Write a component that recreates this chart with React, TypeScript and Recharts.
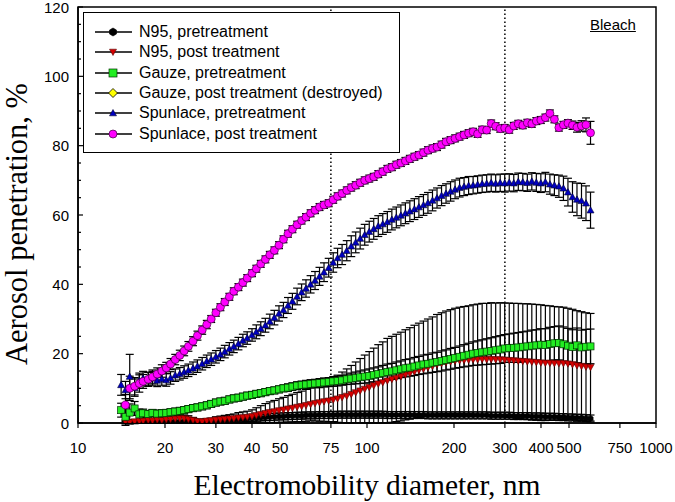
import React from 'react';
import { ScatterChart, Scatter, XAxis, YAxis, ErrorBar, ReferenceLine, ReferenceArea, Legend, Label } from 'recharts';

const diameters = [
  14.1, 14.6, 15.1, 15.7, 16.3, 16.8, 17.5, 18.1, 18.8, 19.5,
  20.2, 20.9, 21.7, 22.5, 23.3, 24.1, 25.0, 25.9, 26.9, 27.9,
  28.9, 30.0, 31.1, 32.2, 33.4, 34.6, 35.9, 37.2, 38.5, 40.0,
  41.4, 42.9, 44.5, 46.1, 47.8, 49.6, 51.4, 53.3, 55.2, 57.3,
  59.4, 61.5, 63.8, 66.1, 68.5, 71.0, 73.7, 76.4, 79.1, 82.0,
  85.1, 88.2, 91.4, 94.7, 98.2, 101.8, 105.5, 109.4, 113.4, 117.6,
  121.9, 126.3, 131.0, 135.8, 140.7, 145.9, 151.2, 156.8, 162.5, 168.5,
  174.7, 181.1, 187.7, 194.6, 201.7, 209.1, 216.7, 224.7, 232.9, 241.4,
  250.3, 259.5, 269.0, 278.8, 289.0, 299.6, 310.6, 322.0, 333.8, 346.0,
  358.7, 371.8, 385.4, 399.5, 414.2, 429.4, 445.1, 461.4, 478.3, 495.8,
  514.0, 532.8, 552.3, 572.5, 593.5,
];

const n95Pre = [
  null, 0.1, 0.2, 0.1, 0.2, 0.2, 0.2, 0.3, 0.2, 0.3,
  0.3, 0.3, 0.4, 0.3, 0.4, 0.4, 0.5, 0.5, 0.5, 0.6,
  0.6, 0.7, 0.7, 0.8, 0.9, 0.9, 1.0, 1.1, 1.2, 1.3,
  1.4, 1.5, 1.6, 1.7, 1.8, 1.9, 1.9, 2.0, 2.0, 2.1,
  2.1, 2.2, 2.2, 2.2, 2.3, 2.3, 2.3, 2.3, 2.4, 2.4,
  2.4, 2.4, 2.4, 2.4, 2.4, 2.4, 2.4, 2.4, 2.4, 2.3,
  2.3, 2.3, 2.3, 2.3, 2.3, 2.3, 2.3, 2.3, 2.2, 2.2,
  2.2, 2.2, 2.2, 2.2, 2.2, 2.2, 2.2, 2.2, 2.2, 2.2,
  2.2, 2.2, 2.1, 2.1, 2.1, 2.1, 2.1, 2.0, 2.0, 2.0,
  2.0, 1.9, 1.9, 1.9, 1.8, 1.8, 1.8, 1.7, 1.7, 1.6,
  1.6, 1.5, 1.5, 1.4, 1.3,
];
const n95PreErr = [
  0, 0.3, 0.3, 0.3, 0.3, 0.3, 0.3, 0.3, 0.3, 0.3,
  0.4, 0.4, 0.4, 0.4, 0.4, 0.4, 0.5, 0.5, 0.5, 0.5,
  0.5, 0.6, 0.6, 0.6, 0.7, 0.7, 0.7, 0.8, 0.8, 0.8,
  0.9, 0.9, 0.9, 1.0, 1.0, 1.0, 1.0, 1.0, 1.0, 1.0,
  1.0, 1.0, 1.0, 1.0, 1.0, 1.0, 1.0, 1.0, 1.0, 1.0,
  1.0, 1.0, 1.0, 1.0, 1.0, 1.0, 1.0, 1.0, 1.0, 1.0,
  1.0, 1.0, 1.0, 1.0, 1.0, 1.0, 1.0, 1.0, 1.0, 1.0,
  1.0, 1.0, 1.0, 1.0, 1.0, 1.0, 1.0, 1.0, 1.0, 1.0,
  1.0, 1.0, 1.0, 1.0, 1.0, 1.0, 1.0, 1.0, 1.0, 1.0,
  1.0, 1.0, 1.0, 1.0, 1.0, 1.0, 1.0, 1.0, 1.0, 1.0,
  1.0, 1.0, 1.0, 1.0, 1.0,
];

const n95Post = [
  null, 0.3, 0.2, 0.4, 0.5, 0.6, 0.8, 0.7, 0.9, 0.8,
  1.0, 1.1, 1.2, 1.3, 1.3, 1.1, 0.8, 0.5, 0.4, 0.6,
  0.7, 0.9, 1.0, 1.1, 1.2, 1.3, 1.5, 1.6, 1.7, 1.9,
  2.2, 2.5, 2.8, 3.1, 3.3, 3.6, 3.8, 4.1, 4.3, 4.6,
  4.8, 5.1, 5.4, 5.7, 5.9, 6.2, 6.4, 6.7, 7.0, 7.4,
  7.8, 8.3, 8.8, 9.3, 9.8, 10.3, 10.8, 11.3, 11.7, 12.2,
  12.6, 13.0, 13.4, 13.9, 14.3, 14.8, 15.2, 15.6, 16.0, 16.4,
  16.9, 17.2, 17.5, 17.7, 17.9, 18.0, 18.1, 18.2, 18.3, 18.3,
  18.4, 18.3, 18.4, 18.3, 18.3, 18.2, 18.1, 18.0, 17.9, 17.8,
  17.7, 17.6, 17.5, 17.4, 17.3, 17.3, 17.2, 17.2, 17.2, 17.1,
  16.9, 16.6, 16.4, 16.2, 16.1,
];
const n95PostErr = [
  0, 0.5, 0.5, 0.5, 0.5, 0.6, 0.6, 0.6, 0.7, 0.7,
  0.8, 0.8, 0.9, 0.9, 1.0, 1.0, 0.8, 0.5, 0.4, 0.6,
  0.7, 0.9, 1.0, 1.1, 1.2, 1.3, 1.5, 1.6, 1.7, 1.9,
  2.2, 2.5, 2.8, 3.0, 3.2, 3.4, 3.6, 3.8, 4.0, 4.2,
  4.4, 4.6, 4.8, 5.1, 5.4, 5.7, 6.0, 6.3, 6.8, 7.3,
  7.8, 8.3, 8.8, 9.3, 9.8, 10.3, 10.8, 11.3, 11.7, 12.2,
  12.4, 12.6, 12.8, 13.0, 13.2, 13.4, 13.6, 13.8, 14.0, 14.2,
  14.4, 14.6, 14.8, 15.0, 15.2, 15.4, 15.5, 15.6, 15.8, 16.0,
  16.1, 16.2, 16.3, 16.3, 16.4, 16.4, 16.5, 16.5, 16.6, 16.6,
  16.7, 16.7, 16.7, 16.7, 16.6, 16.5, 16.4, 16.3, 16.2, 16.0,
  15.9, 15.8, 15.7, 15.6, 15.5,
];

const gauzePre = [
  3.7, 1.8, 3.0, 4.2, 2.5, 2.8, 2.6, 2.9, 2.7, 2.8,
  2.9, 3.1, 3.3, 3.5, 3.7, 4.0, 4.3, 4.5, 4.8, 5.1,
  5.5, 5.9, 6.2, 6.4, 6.8, 7.1, 7.3, 7.6, 7.9, 8.1,
  8.4, 8.6, 8.9, 9.2, 9.4, 9.7, 10.0, 10.2, 10.5, 10.8,
  11.0, 11.1, 11.3, 11.4, 11.5, 11.7, 11.8, 12.0, 12.1, 12.3,
  12.6, 12.8, 13.0, 13.2, 13.4, 13.6, 13.9, 14.1, 14.4, 14.7,
  14.9, 15.2, 15.5, 15.8, 16.0, 16.3, 16.6, 16.9, 17.1, 17.4,
  17.6, 17.9, 18.2, 18.5, 18.8, 19.1, 19.4, 19.7, 20.0, 20.2,
  20.4, 20.6, 20.8, 21.0, 21.2, 21.5, 21.6, 21.7, 21.8, 22.0,
  22.1, 22.3, 22.4, 22.6, 22.5, 22.8, 23.0, 23.1, 22.7, 22.3,
  21.9, 22.4, 21.8, 22.0, 22.1,
];
const gauzePreErr = [
  2.0, 2.5, 2.5, 2.0, 1.5, 1.2, 1.0, 1.0, 1.0, 1.0,
  1.0, 1.0, 1.0, 1.0, 1.0, 1.0, 1.0, 1.0, 1.0, 1.0,
  1.0, 1.0, 1.0, 1.0, 1.0, 1.0, 1.0, 1.0, 1.0, 1.0,
  1.0, 1.0, 1.0, 1.0, 1.0, 1.0, 1.0, 1.1, 1.1, 1.1,
  1.1, 1.2, 1.2, 1.2, 1.3, 1.3, 1.3, 1.4, 1.4, 1.4,
  1.5, 1.6, 1.7, 1.8, 1.9, 2.0, 2.0, 2.1, 2.2, 2.3,
  2.3, 2.4, 2.4, 2.5, 2.5, 2.6, 2.6, 2.7, 2.7, 2.8,
  2.8, 2.9, 2.9, 3.0, 3.0, 3.1, 3.2, 3.3, 3.4, 3.5,
  3.6, 3.7, 3.8, 3.9, 4.0, 4.0, 4.1, 4.2, 4.3, 4.3,
  4.4, 4.5, 4.5, 4.6, 4.7, 4.8, 4.8, 4.9, 5.0, 5.0,
  5.0, 5.0, 5.0, 5.0, 5.0,
];

const gauzePost: (number | null)[] = [];
const gauzePostErr: number[] = [];

const spunlacePre = [
  11.0, 9.5, 13.4, 10.2, 12.2, 12.9, 12.6, 12.9, 12.3, 12.7,
  12.4, 13.0, 13.8, 14.2, 14.7, 15.2, 15.8, 16.4, 17.1, 17.8,
  18.4, 19.1, 19.8, 20.6, 21.4, 22.1, 22.9, 23.8, 24.5, 25.4,
  26.3, 27.2, 28.2, 29.3, 30.4, 31.6, 32.6, 33.9, 35.1, 36.5,
  37.7, 38.8, 40.0, 41.1, 42.3, 43.5, 44.8, 46.3, 47.6, 48.6,
  49.7, 51.0, 52.1, 53.2, 54.3, 55.2, 56.0, 56.8, 57.4, 58.0,
  58.7, 59.3, 59.9, 60.5, 61.1, 61.7, 62.3, 62.9, 63.5, 64.2,
  64.9, 65.6, 66.2, 66.8, 67.4, 67.9, 68.2, 68.5, 68.6, 68.8,
  69.0, 69.1, 69.3, 69.1, 69.3, 69.2, 69.4, 69.2, 69.6, 69.5,
  69.3, 69.7, 69.4, 69.2, 69.5, 68.9, 68.6, 68.3, 67.7, 66.6,
  65.2, 64.5, 64.1, 63.4, 61.4,
];
const spunlacePreErr = [
  3.0, 2.5, 6.4, 2.5, 2.2, 2.0, 2.0, 2.0, 1.8, 1.8,
  1.8, 1.8, 1.8, 1.8, 1.8, 1.8, 1.8, 1.8, 1.8, 1.8,
  1.8, 1.8, 1.8, 1.8, 1.8, 1.8, 1.8, 1.8, 1.8, 1.8,
  2.0, 2.0, 2.0, 2.1, 2.1, 2.2, 2.2, 2.3, 2.3, 2.4,
  2.4, 2.5, 2.5, 2.6, 2.6, 2.7, 2.7, 2.8, 2.8, 2.9,
  2.9, 3.0, 3.0, 3.0, 3.0, 3.0, 3.0, 3.0, 3.0, 3.0,
  3.0, 3.0, 3.0, 3.0, 3.0, 3.0, 3.0, 3.0, 3.0, 3.0,
  2.9, 2.9, 2.8, 2.8, 2.7, 2.7, 2.6, 2.6, 2.5, 2.5,
  2.5, 2.5, 2.5, 2.5, 2.5, 2.6, 2.5, 2.5, 2.5, 2.5,
  2.5, 2.5, 2.6, 2.7, 2.8, 2.9, 3.0, 3.2, 3.5, 4.0,
  4.4, 4.7, 5.0, 5.0, 5.2,
];

const spunlacePost = [
  null, 5.2, 10.0, 10.6, 11.4, 12.0, 12.6, 13.3, 14.1, 15.0,
  15.9, 17.0, 18.3, 19.5, 20.8, 22.1, 23.6, 25.2, 26.8, 28.4,
  30.0, 31.8, 33.4, 34.9, 36.4, 38.0, 39.2, 40.5, 41.8, 43.2,
  44.5, 45.9, 47.2, 48.5, 49.8, 51.3, 53.0, 54.6, 55.9, 57.2,
  58.4, 59.4, 60.5, 61.4, 62.3, 62.9, 63.4, 64.4, 65.4, 66.2,
  67.1, 67.9, 68.6, 69.3, 70.0, 70.5, 71.0, 71.8, 72.5, 73.3,
  73.8, 74.5, 75.0, 75.6, 76.2, 76.8, 77.3, 78.0, 78.7, 79.2,
  79.6, 80.3, 81.1, 81.6, 82.1, 82.6, 83.1, 83.6, 84.0, 83.4,
  84.6, 84.5, 86.4, 85.6, 84.9, 85.1, 84.6, 85.7, 86.3, 85.9,
  86.6, 86.3, 87.1, 87.4, 88.1, 89.3, 87.6, 85.2, 86.0, 86.5,
  85.9, 85.3, 85.7, 86.0, 83.7,
];
const spunlacePostErr = [
  0, 3.0, 3.5, 2.5, 2.5, 2.0, 2.0, 2.0, 1.8, 1.8,
  1.6, 1.6, 1.5, 1.5, 1.4, 1.4, 1.3, 1.3, 1.2, 1.2,
  1.0, 1.0, 1.0, 1.0, 1.0, 1.0, 1.0, 1.0, 1.0, 1.0,
  1.0, 1.0, 1.0, 1.0, 1.0, 1.0, 1.0, 1.0, 1.0, 1.0,
  1.0, 1.0, 1.0, 1.0, 1.0, 1.0, 1.0, 1.0, 1.0, 1.0,
  1.0, 1.0, 1.0, 1.0, 1.0, 1.0, 1.0, 1.0, 1.0, 1.0,
  1.0, 1.0, 1.0, 1.0, 1.0, 1.0, 1.0, 1.0, 1.0, 1.0,
  1.0, 1.0, 1.0, 1.0, 1.0, 1.0, 1.0, 1.0, 1.0, 1.0,
  1.0, 1.0, 1.0, 1.0, 1.0, 1.0, 1.0, 1.0, 1.0, 1.0,
  1.0, 1.0, 1.0, 1.0, 1.0, 1.0, 1.0, 1.0, 1.0, 1.0,
  1.2, 1.4, 1.5, 2.0, 3.3,
];

const xTicks = [10, 20, 30, 40, 50, 75, 100, 200, 300, 400, 500, 750, 1000];
const yTicks = [0, 5, 10, 15, 20, 25, 30, 35, 40, 45, 50, 55, 60, 65, 70, 75, 80, 85, 90, 95, 100, 105, 110, 115, 120];
const yLabeledTicks = [0, 20, 40, 60, 80, 100, 120];
const guideLines = [75, 300];

const seriesNames = [
  'N95, pretreatment',
  'N95, post treatment',
  'Gauze, pretreatment',
  'Gauze, post treatment (destroyed)',
  'Spunlace, pretreatment',
  'Spunlace, post treatment',
];
const seriesKinds = ['hex', 'tdown', 'square', 'diamond', 'tup', 'circle'];

const SANS = "'Liberation Sans', Arial, sans-serif";
const SERIF = "'Liberation Serif', 'Times New Roman', serif";

type Pt = { d: number; v: number; e: number };
function build(vals: (number | null)[], errs: number[]): Pt[] {
  const out: Pt[] = [];
  vals.forEach((v, i) => {
    if (v !== null && v !== undefined) out.push({ d: diameters[i], v, e: errs[i] });
  });
  return out;
}

const seriesData = [
  build(n95Pre, n95PreErr),
  build(n95Post, n95PostErr),
  build(gauzePre, gauzePreErr),
  build(gauzePost, gauzePostErr),
  build(spunlacePre, spunlacePreErr),
  build(spunlacePost, spunlacePostErr),
];

function Marker({ kind, cx, cy, s }: { kind: string; cx: number; cy: number; s: number }) {
  if (cx == null || cy == null || isNaN(cx) || isNaN(cy)) return null;
  const h = s / 2;
  switch (kind) {
    case 'hex': {
      const pts = [0, 1, 2, 3, 4, 5]
        .map((k) => {
          const a = (Math.PI / 3) * k + Math.PI / 6;
          return `${cx + h * Math.cos(a)},${cy + h * Math.sin(a)}`;
        })
        .join(' ');
      return <polygon points={pts} fill="#000" stroke="#000" strokeWidth={0.6} />;
    }
    case 'tdown':
      return (
        <polygon
          points={`${cx - h},${cy - h * 0.8} ${cx + h},${cy - h * 0.8} ${cx},${cy + h}`}
          fill="#d40000"
          stroke="#5a0000"
          strokeWidth={0.6}
        />
      );
    case 'square':
      return <rect x={cx - h} y={cy - h} width={s} height={s} fill="#22ee22" stroke="#003300" strokeWidth={0.7} />;
    case 'diamond':
      return (
        <polygon
          points={`${cx},${cy - h} ${cx + h},${cy} ${cx},${cy + h} ${cx - h},${cy}`}
          fill="#ffff00"
          stroke="#000"
          strokeWidth={0.8}
        />
      );
    case 'tup':
      return (
        <polygon
          points={`${cx - h},${cy + h * 0.8} ${cx + h},${cy + h * 0.8} ${cx},${cy - h}`}
          fill="#0000c0"
          stroke="#000030"
          strokeWidth={0.6}
        />
      );
    default:
      return <circle cx={cx} cy={cy} r={h} fill="#ff00ff" stroke="#400040" strokeWidth={0.7} />;
  }
}

const markerSizes = [6, 7, 7, 8, 7, 8];
const legendSizes = [8, 7, 8, 9, 7, 8];

function YTick(props: any) {
  const { x, y, payload } = props;
  const major = yLabeledTicks.includes(payload.value);
  return (
    <g>
      <line x1={x} y1={y} x2={x + (major ? 5 : 3)} y2={y} stroke="#000" strokeWidth={1.2} />
      {major && (
        <text x={x - 9} y={y} textAnchor="end" dominantBaseline="central" fontSize={15} fontFamily={SANS} fill="#000">
          {payload.value}
        </text>
      )}
    </g>
  );
}

function XTick(props: any) {
  const { x, y, payload } = props;
  return (
    <g>
      <line x1={x} y1={y} x2={x} y2={y + 5} stroke="#000" strokeWidth={1.2} />
      <text x={x} y={y + 24} textAnchor="middle" dominantBaseline="central" fontSize={15} fontFamily={SANS} fill="#000">
        {payload.value}
      </text>
    </g>
  );
}

function XTitle() {
  return (
    <text x={367} y={495} textAnchor="middle" fontSize={29.5} fontFamily={SERIF} fill="#000">
      Electromobility diameter, nm
    </text>
  );
}

function YTitle() {
  return (
    <text
      transform="translate(17,224) rotate(-90)"
      textAnchor="middle"
      dominantBaseline="central"
      fontSize={30.5}
      fontFamily={SERIF}
      fill="#000"
    >
      Aerosol penetration, %
    </text>
  );
}

function LegendBox() {
  return (
    <div
      style={{
        position: 'relative',
        width: 317,
        height: 141,
        boxSizing: 'border-box',
        border: '1.5px solid #000',
        background: '#fff',
      }}
    >
      {seriesNames.map((name, i) => {
        const cy = 19 + i * 20.3;
        return (
          <div key={name} style={{ position: 'absolute', left: 0, top: cy - 10, height: 20, width: 315 }}>
            <svg width={40} height={20} style={{ position: 'absolute', left: 10, top: 0 }}>
              <line x1={1} y1={10} x2={38} y2={10} stroke="#000" strokeWidth={1.3} />
              <Marker kind={seriesKinds[i]} cx={19} cy={10} s={legendSizes[i]} />
            </svg>
            <span
              style={{
                position: 'absolute',
                left: 55,
                top: 0,
                lineHeight: '20px',
                fontSize: 16,
                fontFamily: SANS,
                color: '#000',
                whiteSpace: 'nowrap',
              }}
            >
              {name}
            </span>
          </div>
        );
      })}
    </div>
  );
}

export default function App() {
  return (
    <div style={{ position: 'absolute', left: 0, top: 0, width: 675, height: 502, background: '#fff' }}>
      <ScatterChart width={675} height={502} margin={{ top: 7, right: 19, bottom: 0, left: 0 }}>
        <XAxis
          dataKey="d"
          type="number"
          scale="log"
          domain={[10, 1000]}
          ticks={xTicks}
          interval={0}
          allowDataOverflow
          height={79}
          tickSize={0}
          tickMargin={0}
          tickLine={false}
          tick={<XTick />}
          axisLine={{ stroke: '#000', strokeWidth: 1.5 }}
        >
          <Label content={<XTitle />} />
        </XAxis>
        <YAxis
          dataKey="v"
          type="number"
          domain={[0, 120]}
          ticks={yTicks}
          interval={0}
          allowDataOverflow
          width={78}
          tickSize={0}
          tickMargin={0}
          tickLine={false}
          tick={<YTick />}
          axisLine={{ stroke: '#000', strokeWidth: 1.5 }}
        >
          <Label content={<YTitle />} />
        </YAxis>
        <ReferenceArea x1={10} x2={1000} y1={0} y2={120} fill="none" stroke="#000" strokeWidth={1.5} ifOverflow="visible" />
        {guideLines.map((g) => (
          <ReferenceLine key={g} x={g} stroke="#000" strokeWidth={1.5} strokeDasharray="1.5 2.5" />
        ))}
        {seriesData.map((data, i) => (
          <Scatter
            key={seriesNames[i]}
            name={seriesNames[i]}
            data={data}
            dataKey="v"
            isAnimationActive={false}
            shape={(p: any) => <Marker kind={seriesKinds[i]} cx={p.cx} cy={p.cy} s={markerSizes[i]} />}
          >
            <ErrorBar dataKey="e" direction="y" width={4} stroke="#000" strokeWidth={1.2} />
          </Scatter>
        ))}
        <Legend
          layout="vertical"
          verticalAlign="middle"
          align="center"
          content={() => <LegendBox />}
          wrapperStyle={{ left: 83, top: 12, width: 317, height: 141 }}
        />
      </ScatterChart>
      <div
        style={{
          position: 'absolute',
          left: 590,
          top: 16,
          fontSize: 15,
          lineHeight: '17px',
          fontFamily: SANS,
          textDecoration: 'underline',
          color: '#000',
        }}
      >
        Bleach
      </div>
    </div>
  );
}
